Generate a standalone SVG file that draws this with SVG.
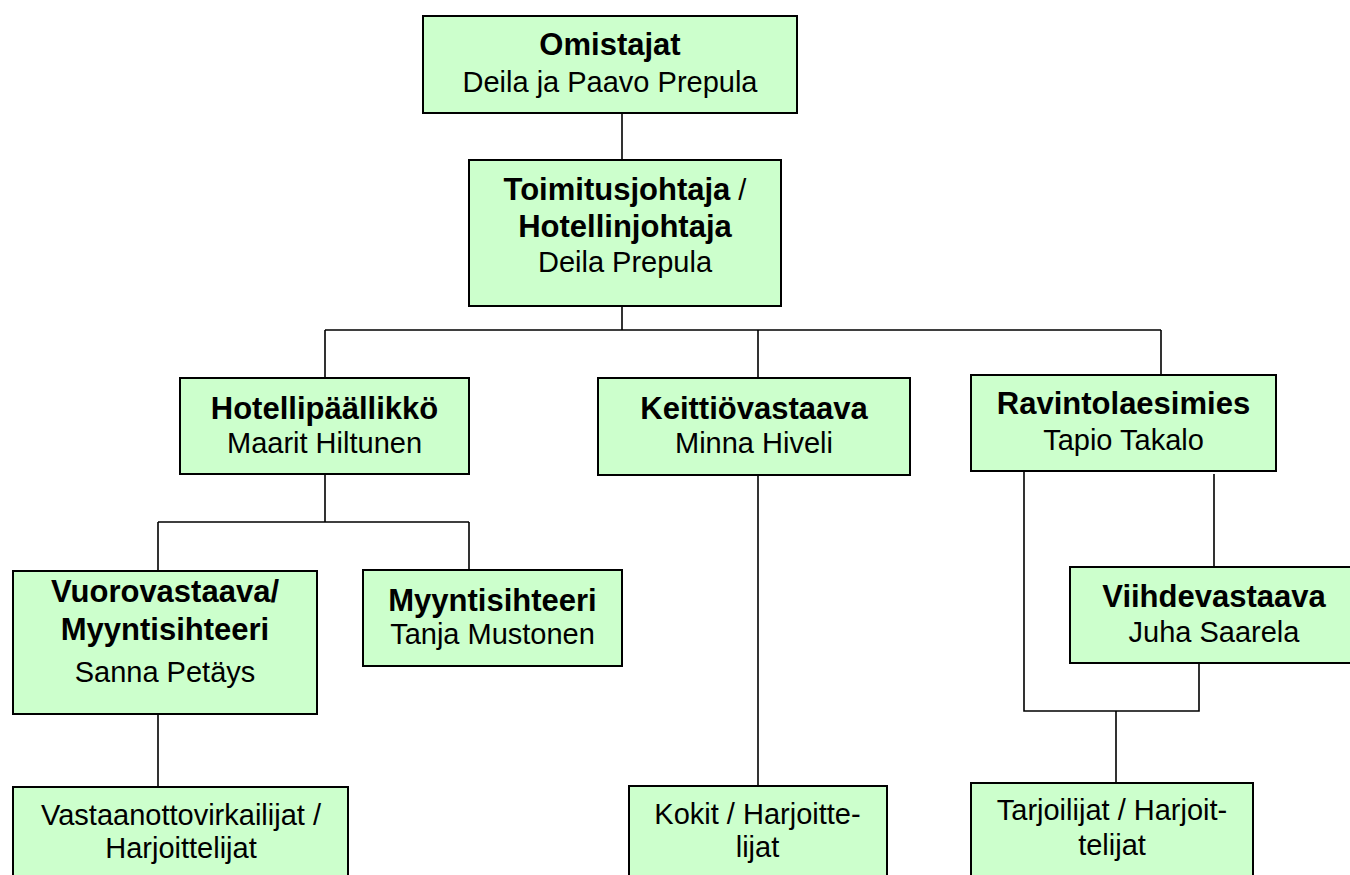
<svg xmlns="http://www.w3.org/2000/svg" width="1350" height="875" viewBox="0 0 1350 875">
<style>
.box{fill:#CCFFCC;stroke:#000;stroke-width:2}
.t{font-family:"Liberation Sans",Arial,sans-serif;font-size:29px;fill:#000;text-anchor:middle}
.b{font-weight:bold;font-size:31px}
.n{font-weight:normal;font-size:29px}
.c{fill:none;stroke:#000;stroke-width:1.6}
</style>
<rect width="1350" height="875" fill="#fff"/>
<g id="connectors">
<path class="c" d="M622 113V160M622 306V330M325 330H1161M325 330V378M758 330V378M1161 330V375"/>
<path class="c" d="M325 474V522M158 522H469M158 522V571M469 522V570M158 714V787"/>
<path class="c" d="M758 475V786"/>
<path class="c" d="M1024 471V711H1199V663M1214 474V567M1116 711V783"/>
</g>
<g id="omistajat">
<rect class="box" x="423" y="16" width="374" height="97"/>
<text class="t b" x="610" y="55">Omistajat</text>
<text class="t" x="610" y="92">Deila ja Paavo Prepula</text>
</g>
<g id="toimitusjohtaja">
<rect class="box" x="469" y="160" width="312" height="146"/>
<text class="t" x="625" y="200"><tspan class="b">Toimitusjohtaja</tspan><tspan class="n"> /</tspan></text>
<text class="t b" x="625" y="237">Hotellinjohtaja</text>
<text class="t" x="625" y="272">Deila Prepula</text>
</g>
<g id="hotellipaallikko">
<rect class="box" x="180" y="378" width="289" height="96"/>
<text class="t b" x="324.5" y="419">Hotellipäällikkö</text>
<text class="t" x="324.5" y="453">Maarit Hiltunen</text>
</g>
<g id="keittiovastaava">
<rect class="box" x="598" y="378" width="312" height="97"/>
<text class="t b" x="754" y="419">Keittiövastaava</text>
<text class="t" x="754" y="453">Minna Hiveli</text>
</g>
<g id="ravintolaesimies">
<rect class="box" x="971" y="375" width="305" height="96"/>
<text class="t b" x="1123.5" y="414">Ravintolaesimies</text>
<text class="t" x="1123.5" y="450">Tapio Takalo</text>
</g>
<g id="vuorovastaava">
<rect class="box" x="13" y="571" width="304" height="143"/>
<text class="t b" x="165" y="602">Vuorovastaava/</text>
<text class="t b" x="165" y="640">Myyntisihteeri</text>
<text class="t" x="165" y="682">Sanna Petäys</text>
</g>
<g id="myyntisihteeri">
<rect class="box" x="363" y="570" width="259" height="96"/>
<text class="t b" x="492.5" y="611">Myyntisihteeri</text>
<text class="t" x="492.5" y="644">Tanja Mustonen</text>
</g>
<g id="viihdevastaava">
<rect class="box" x="1070" y="567" width="288" height="96"/>
<text class="t b" x="1214" y="607">Viihdevastaava</text>
<text class="t" x="1214" y="642">Juha Saarela</text>
</g>
<g id="vastaanottovirkailijat">
<rect class="box" x="13" y="787" width="335" height="100"/>
<text class="t" x="181" y="825">Vastaanottovirkailijat /</text>
<text class="t" x="181" y="858">Harjoittelijat</text>
</g>
<g id="kokit">
<rect class="box" x="629" y="786" width="258" height="100"/>
<text class="t" x="757.5" y="824">Kokit / Harjoitte-</text>
<text class="t" x="757.5" y="857">lijat</text>
</g>
<g id="tarjoilijat">
<rect class="box" x="971" y="783" width="282" height="100"/>
<text class="t" x="1112" y="820">Tarjoilijat / Harjoit-</text>
<text class="t" x="1112" y="855">telijat</text>
</g>
</svg>
